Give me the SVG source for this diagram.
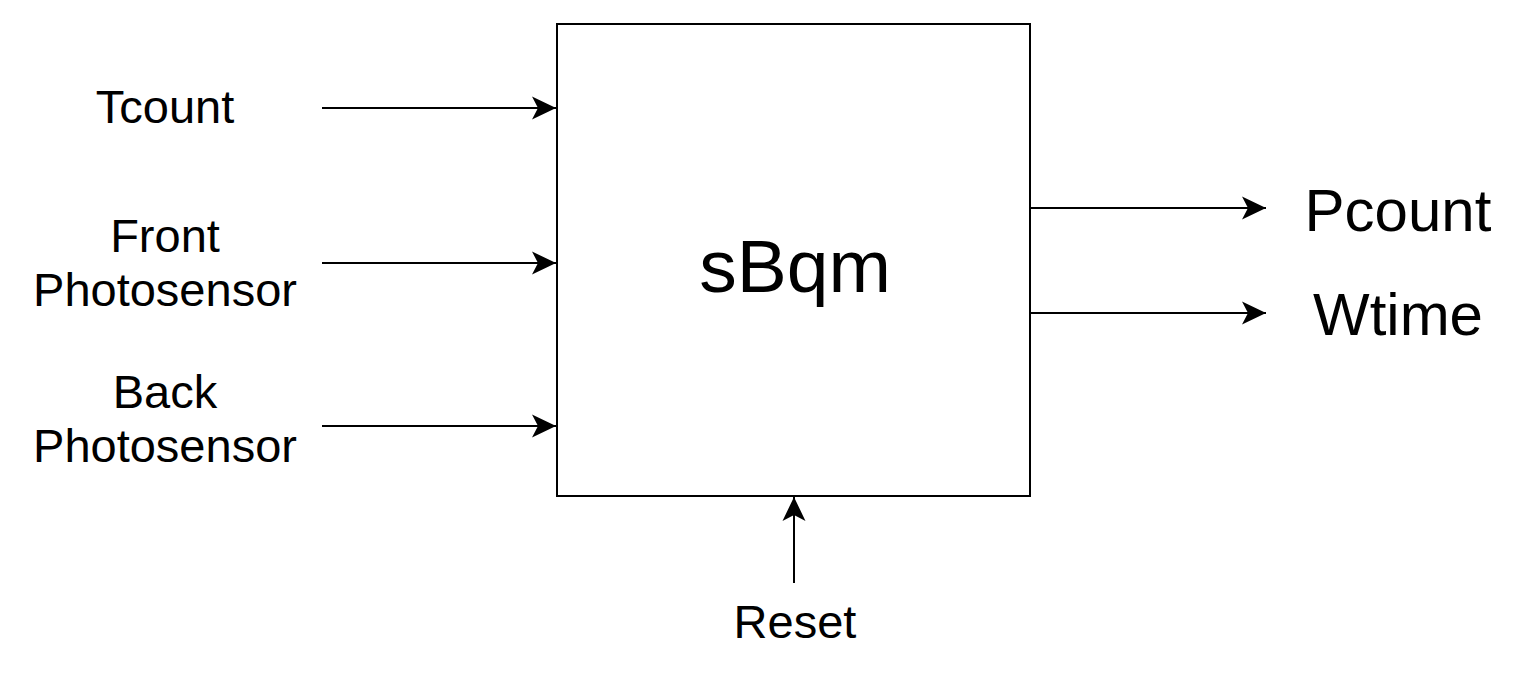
<svg xmlns="http://www.w3.org/2000/svg" width="1524" height="690" viewBox="0 0 1524 690">
<style>
text{font-family:"Liberation Sans",Arial,sans-serif;fill:#000;text-anchor:middle}
.l{font-size:47px}
.o{font-size:60px}
.c{stroke:#000;stroke-width:2;fill:none}
</style>
<defs>
<marker id="ah" markerUnits="userSpaceOnUse" markerWidth="26" markerHeight="26" viewBox="0 0 26 26" refX="24" refY="13" orient="auto">
<path d="M0,1.5 L24,13 L0,24.5 L6,13 Z" fill="#000"/>
</marker>
</defs>
<rect width="1524" height="690" fill="#fff"/>
<g id="connectors">
<line class="c" x1="322" y1="108" x2="556" y2="108" marker-end="url(#ah)"/>
<line class="c" x1="322" y1="263" x2="556" y2="263" marker-end="url(#ah)"/>
<line class="c" x1="322" y1="426" x2="556" y2="426" marker-end="url(#ah)"/>
<line class="c" x1="1030" y1="208" x2="1266" y2="208" marker-end="url(#ah)"/>
<line class="c" x1="1030" y1="313" x2="1266" y2="313" marker-end="url(#ah)"/>
<line class="c" x1="794" y1="583" x2="794" y2="497" marker-end="url(#ah)"/>
</g>
<g id="sBqm">
<rect x="557" y="24" width="473" height="472" fill="#fff" stroke="#000" stroke-width="2"/>
<text x="795" y="292" style="font-size:75px">sBqm</text>
</g>
<g id="tcount"><text class="l" x="165" y="123">Tcount</text></g>
<g id="front"><text class="l" x="165" y="252">Front</text><text class="l" x="165" y="306">Photosensor</text></g>
<g id="back"><text class="l" x="165" y="408">Back</text><text class="l" x="165" y="462">Photosensor</text></g>
<g id="reset"><text class="l" x="795" y="638">Reset</text></g>
<g id="pcount"><text class="o" x="1398" y="231">Pcount</text></g>
<g id="wtime"><text class="o" x="1398" y="335">Wtime</text></g>
</svg>
